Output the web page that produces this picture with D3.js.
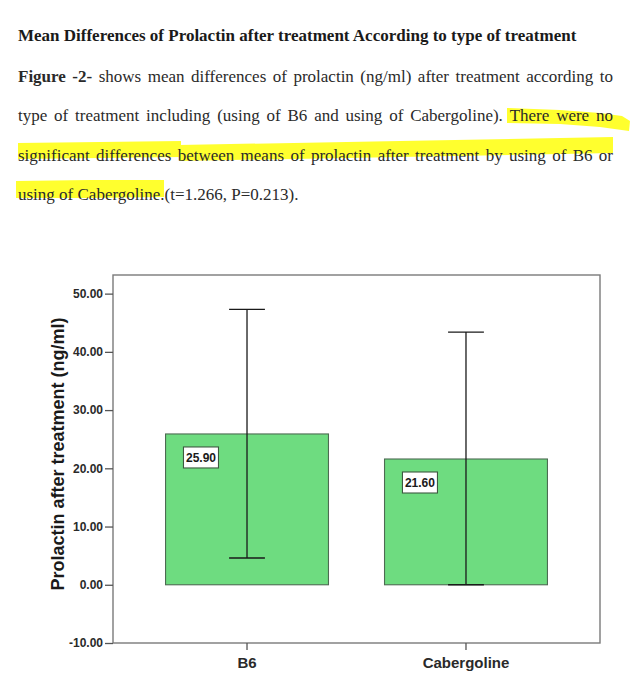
<!DOCTYPE html>
<html><head><meta charset="utf-8">
<script src="https://cdn.jsdelivr.net/npm/d3@7"></script>
<style>html,body{margin:0;padding:0;background:#fff;} svg{display:block;}</style>
</head><body>
<svg id="c" width="639" height="676"></svg>
<script>
// ---- data ----
const categories = ["B6", "Cabergoline"];
const means = [25.90, 21.60];
const errUpper = [47.3, 43.4];
const errLower = [4.6, 0.0];
const yTicks = [-10, 0, 10, 20, 30, 40, 50];
const yDomain = [-10, 53.2];
const yTitle = "Prolactin after treatment (ng/ml)";

const titleText = "Mean Differences of Prolactin after treatment According to type of treatment";
const bodyLines = [
  [["Figure -2-", true], ["shows mean differences of prolactin (ng/ml) after treatment according to", false]],
  [["type of treatment including (using of B6 and using of Cabergoline). There were no", false]],
  [["significant differences between means of prolactin after treatment by using of B6 or", false]],
  [["using of Cabergoline.(t=1.266, P=0.213).", false]]
];

// ---- drawing ----
const svg = d3.select("#c");
svg.append("rect").attr("width", 639).attr("height", 676).attr("fill", "#fff");

// highlighter strokes
const hlShapes = [
  [[507,108],[560,110],[600,113],[622,116],[630,121],[629,131],[600,127],[560,124],[507,123]],
  [[18,143],[100,142],[181,141],[181,157],[100,158],[18,159]],
  [[179,145],[400,141],[613,137],[613,153],[400,157],[179,161]],
  [[16,181],[90,180],[164,180],[164,197],[90,198],[16,198]]
];
const hlLine = d3.line().curve(d3.curveLinearClosed);
svg.append("g").selectAll("path").data(hlShapes).join("path")
  .attr("d", hlLine).attr("fill", "#ffff2e");

const serif = "'Liberation Serif','Times New Roman',serif";
const FS = 17;
const textL = 18, textR = 613;

svg.append("text").attr("x", textL).attr("y", 41)
  .attr("font-family", serif).attr("font-size", FS).attr("font-weight", "bold")
  .attr("fill", "#1a1a1a").text(titleText);

const baselines = [82, 121, 161, 200];
bodyLines.forEach((segs, i) => {
  const justify = i < bodyLines.length - 1;
  const y = baselines[i];
  const words = [];
  segs.forEach(([t, b]) => t.split(" ").forEach(w => words.push({w, b})));
  const g = svg.append("g");
  const els = words.map(d => g.append("text").attr("y", y)
    .attr("font-family", serif).attr("font-size", FS)
    .attr("font-weight", d.b ? "bold" : "normal").attr("fill", "#2a2a2a").text(d.w));
  const widths = els.map(e => e.node().getComputedTextLength());
  const total = d3.sum(widths);
  const gap = justify ? (textR - textL - total) / (words.length - 1) : FS * 0.25;
  let x = textL;
  els.forEach((e, k) => { e.attr("x", x); x += widths[k] + gap; });
});

// chart
const sans = "'Liberation Sans',Arial,Helvetica,sans-serif";
const L = 113, R = 600, T = 275, B = 643;
const x = d3.scaleBand().domain(categories).range([L, R]).paddingInner(0.256).paddingOuter(0.24);
const y = d3.scaleLinear().domain(yDomain).range([B, T]);
const fmt = d3.formatLocale({decimal: ".", thousands: ",", grouping: [3], currency: ["", ""], minus: "-"}).format(".2f");

const rows = categories.map((c, i) => ({c, m: means[i], hi: errUpper[i], lo: errLower[i]}));

svg.append("g").selectAll("rect").data(rows).join("rect")
  .attr("x", d => x(d.c)).attr("y", d => y(d.m))
  .attr("width", x.bandwidth()).attr("height", d => y(0) - y(d.m))
  .attr("fill", "#6edc80").attr("stroke", "#4d6b52").attr("stroke-width", 1.1);

const cap = x.bandwidth() * 0.11;
const eg = svg.append("g").attr("stroke", "#1a1a1a").attr("stroke-width", 1.3);
rows.forEach(d => {
  const cx = x(d.c) + x.bandwidth() / 2;
  eg.append("line").attr("x1", cx).attr("x2", cx).attr("y1", y(d.hi)).attr("y2", y(d.lo));
  eg.append("line").attr("x1", cx - cap).attr("x2", cx + cap).attr("y1", y(d.hi)).attr("y2", y(d.hi));
  eg.append("line").attr("x1", cx - cap).attr("x2", cx + cap).attr("y1", y(d.lo)).attr("y2", y(d.lo));
});

// value labels
const lg = svg.append("g");
rows.forEach(d => {
  const bx = x(d.c) + x.bandwidth() * 0.11, by = y(d.m) + 13;
  lg.append("rect").attr("x", bx).attr("y", by).attr("width", 35).attr("height", 21)
    .attr("fill", "#fff").attr("stroke", "#3d5a40").attr("stroke-width", 1.1);
  lg.append("text").attr("x", bx + 17.5).attr("y", by + 15)
    .attr("text-anchor", "middle").attr("font-family", sans).attr("font-size", 12)
    .attr("font-weight", "bold").attr("fill", "#1a1a1a").text(fmt(d.m));
});

// frame
svg.append("rect").attr("x", L).attr("y", T).attr("width", R - L).attr("height", B - T)
  .attr("fill", "none").attr("stroke", "#7a7a7a").attr("stroke-width", 1.4);

// y axis
const ya = svg.append("g").attr("transform", `translate(${L},0)`)
  .call(d3.axisLeft(y).tickValues(yTicks).tickSize(8).tickPadding(2).tickFormat(fmt));
ya.select(".domain").remove();
ya.selectAll(".tick line").attr("stroke", "#555").attr("stroke-width", 1.3);
ya.selectAll(".tick text").attr("font-family", sans).attr("font-size", 12)
  .attr("font-weight", "bold").attr("fill", "#2a2a2a");

// x axis
const xa = svg.append("g").attr("transform", `translate(0,${B})`)
  .call(d3.axisBottom(x).tickSize(7).tickPadding(8));
xa.select(".domain").remove();
xa.selectAll(".tick line").attr("stroke", "#555").attr("stroke-width", 1.3);
xa.selectAll(".tick text").attr("y", 25).attr("dy", 0).attr("font-family", sans).attr("font-size", 15)
  .attr("font-weight", "bold").attr("fill", "#2a2a2a");

// y title
svg.append("text").attr("transform", "rotate(-90)")
  .attr("x", -454).attr("y", 64).attr("text-anchor", "middle")
  .attr("font-family", sans).attr("font-size", 18).attr("font-weight", "bold")
  .attr("fill", "#1a1a1a").text(yTitle);
</script></body></html>
